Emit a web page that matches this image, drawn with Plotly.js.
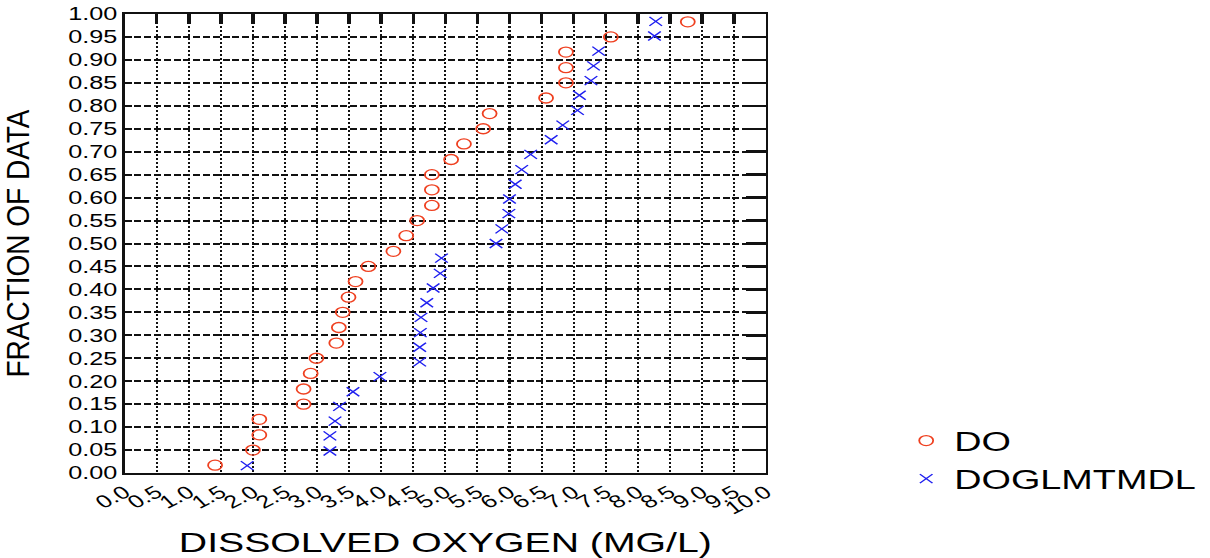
<!DOCTYPE html>
<html>
<head>
<meta charset="utf-8">
<script src="https://cdn.plot.ly/plotly-3.0.1.min.js"></script>
<style>
  html, body { margin: 0; padding: 0; background: #ffffff; }
  #wrap { width: 1210px; height: 558px; overflow: hidden; }
  /* the chart is laid out narrow and widened horizontally */
  #chart { width: 864px; height: 558px; transform: scaleX(1.40046); transform-origin: 0 0; }
  /* keep the vertical axis title slim after the widening */
  #chart .g-ytitle { transform-box: fill-box; transform-origin: center; transform: scaleX(0.78); }
</style>
</head>
<body>
<div id="wrap"><div id="chart"></div></div>
<script>
// Dissolved oxygen (mg/L), sorted, with the plotting fraction of each sample
const doValues = [1.41, 2.00, 2.10, 2.10, 2.79, 2.79, 2.90, 2.99, 3.30, 3.34,
                  3.40, 3.49, 3.60, 3.80, 4.19, 4.39, 4.56, 4.79, 4.79, 4.79,
                  5.09, 5.29, 5.59, 5.69, 6.57, 6.88, 6.88, 6.88, 7.58, 8.78];
const doFraction = [0.017, 0.050, 0.083, 0.117, 0.150, 0.183, 0.217, 0.250, 0.283, 0.317,
                    0.350, 0.383, 0.417, 0.450, 0.483, 0.517, 0.550, 0.583, 0.617, 0.650,
                    0.683, 0.717, 0.750, 0.783, 0.817, 0.850, 0.883, 0.917, 0.950, 0.983];

const modelValues = [1.91, 3.20, 3.20, 3.28, 3.35, 3.56, 3.98, 4.60, 4.60, 4.61,
                     4.62, 4.71, 4.81, 4.92, 4.94, 5.79, 5.88, 5.99, 6.00, 6.09,
                     6.19, 6.33, 6.65, 6.83, 7.06, 7.09, 7.27, 7.31, 7.39, 8.26, 8.28];
const modelFraction = [0.016, 0.048, 0.081, 0.113, 0.145, 0.177, 0.210, 0.242, 0.274, 0.306,
                       0.339, 0.371, 0.403, 0.435, 0.468, 0.500, 0.532, 0.565, 0.597, 0.629,
                       0.661, 0.694, 0.726, 0.758, 0.790, 0.823, 0.855, 0.887, 0.919, 0.952, 0.984];

const seriesNames = ['DO', 'DOGLMTMDL'];
const xTitle = 'DISSOLVED OXYGEN (MG/L)';
const yTitle = 'FRACTION OF DATA';

const FONT = '"Liberation Sans", Arial, Helvetica, sans-serif';
const INK = '#111111';

const traces = [
  {
    x: doValues, y: doFraction, name: seriesNames[0],
    type: 'scatter', mode: 'markers', xaxis: 'x', yaxis: 'y',
    marker: { symbol: 'circle-open', size: 10, color: '#ef4020', line: { width: 1.3, color: '#ef4020' } }
  },
  {
    // same scales, drawn on the mirrored (top/right) axes that carry the inside ticks
    x: modelValues, y: modelFraction, name: seriesNames[1],
    type: 'scatter', mode: 'markers', xaxis: 'x2', yaxis: 'y2',
    marker: { symbol: 'x-thin-open', size: 9, color: '#2020f0', line: { width: 1.2, color: '#2020f0' } }
  }
];

const layout = {
  width: 864, height: 558,
  margin: { l: 88.5, r: 317.3, t: 14, b: 84.7, autoexpand: false },
  paper_bgcolor: '#ffffff', plot_bgcolor: '#ffffff',
  font: { family: FONT, color: '#000000' },
  showlegend: true,
  legend: {
    x: 1.206, y: 0.123, xanchor: 'left', yanchor: 'top',
    font: { size: 27, family: FONT, color: '#000000' },
    bgcolor: 'rgba(0,0,0,0)', borderwidth: 0
  },
  xaxis: {
    range: [0, 10], dtick: 0.5, tick0: 0, tickformat: '.1f',
    tickangle: -35, tickfont: { size: 18 },
    ticks: '', showline: true, linewidth: 2, linecolor: INK, mirror: true,
    showgrid: true, gridcolor: INK, gridwidth: 1.5, griddash: '2px,2px',
    zeroline: false, automargin: false, fixedrange: true,
    title: { text: xTitle, font: { size: 28 }, standoff: 15 }
  },
  yaxis: {
    range: [0, 1], dtick: 0.05, tick0: 0, tickformat: '.2f',
    tickfont: { size: 18 },
    ticks: '', showline: true, linewidth: 1.6, linecolor: INK, mirror: true,
    showgrid: true, gridcolor: INK, gridwidth: 2, griddash: '5px,2px',
    zeroline: false, automargin: false, fixedrange: true,
    title: { text: yTitle, font: { size: 28 }, standoff: 17 }
  },
  xaxis2: {
    overlaying: 'x', anchor: 'y2', side: 'top', range: [0, 10], dtick: 0.5, tick0: 0,
    ticks: 'inside', ticklen: 10, tickwidth: 2.5, tickcolor: INK,
    showticklabels: false, showgrid: false, showline: false, zeroline: false, fixedrange: true
  },
  yaxis2: {
    overlaying: 'y', anchor: 'x2', side: 'right', range: [0, 1], dtick: 0.05, tick0: 0,
    ticks: 'inside', ticklen: 14, tickwidth: 2.5, tickcolor: INK,
    showticklabels: false, showgrid: false, showline: false, zeroline: false, fixedrange: true
  }
};

Plotly.newPlot('chart', traces, layout, { displayModeBar: false, staticPlot: true });
</script>
</body>
</html>
